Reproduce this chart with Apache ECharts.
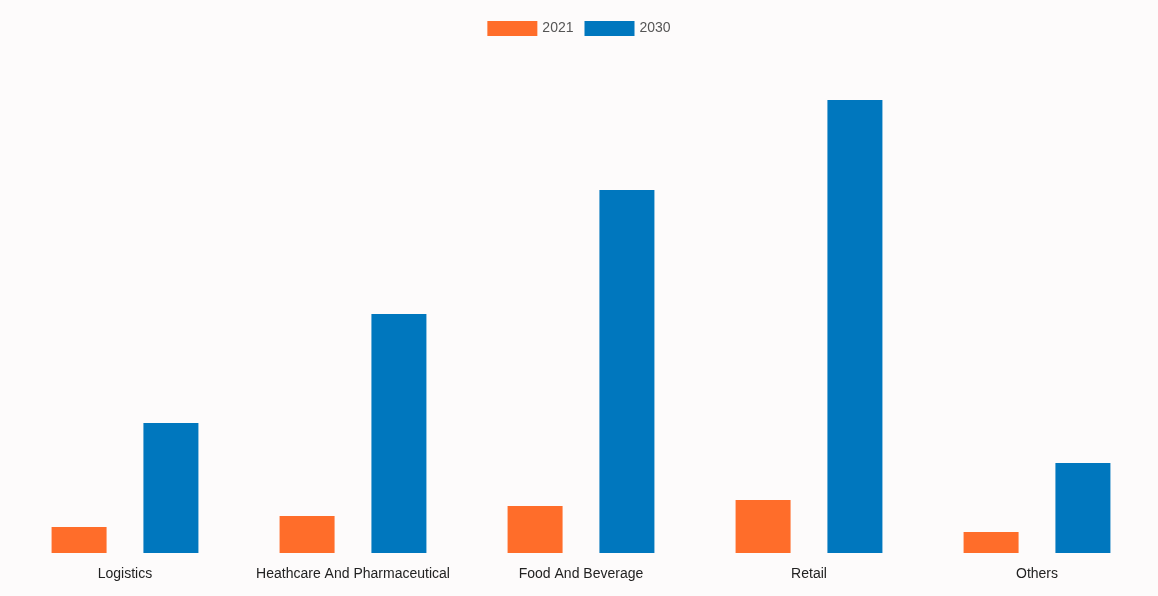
<!DOCTYPE html>
<html>
<head>
<meta charset="utf-8">
<script src="https://cdn.jsdelivr.net/npm/echarts@6/dist/echarts.min.js"></script>
<style>
html,body{margin:0;padding:0;background:#fdfbfb;}
#c{width:1158px;height:596px;}
</style>
</head>
<body>
<div id="c"></div>
<script>
const categories = ['Logistics', 'Heathcare And Pharmaceutical', 'Food And Beverage', 'Retail', 'Others'];
const series2021 = [2.6, 3.7, 4.7, 5.3, 2.1];
const series2030 = [13.0, 23.9, 36.3, 45.3, 9.0];

const chart = echarts.init(document.getElementById('c'));
chart.setOption({
  backgroundColor: '#fdfbfb',
  animation: false,
  legend: {
    top: 16,
    left: 'center',
    icon: 'rect',
    itemWidth: 50,
    itemHeight: 15,
    itemGap: 11,
    textStyle: { color: '#555', fontSize: 14, fontFamily: 'Liberation Sans, Arial, sans-serif' },
    data: ['2021', '2030']
  },
  grid: { left: 11, right: 7, top: 60, bottom: 43, containLabel: false },
  xAxis: {
    type: 'category',
    data: categories,
    axisLine: { show: false },
    axisTick: { show: false },
    axisLabel: { interval: 0, color: '#222', fontSize: 14, margin: 14, fontFamily: 'Liberation Sans, Arial, sans-serif' }
  },
  yAxis: {
    type: 'value',
    min: 0,
    max: 49.3,
    show: false,
    splitLine: { show: false }
  },
  series: [
    { name: '2021', type: 'bar', data: series2021, barWidth: 55, barGap: '67%', itemStyle: { color: '#FF6D2A' } },
    { name: '2030', type: 'bar', data: series2030, barWidth: 55, itemStyle: { color: '#0077BE' } }
  ]
});
</script>
</body>
</html>
